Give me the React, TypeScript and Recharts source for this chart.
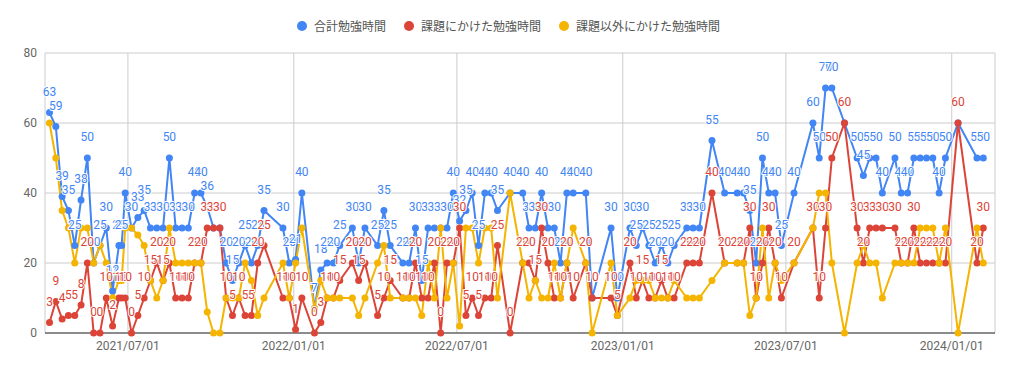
import React from "react";
import { LineChart, Line, XAxis, YAxis, CartesianGrid, LabelList } from "recharts";

const C = {
  total: "#4285f4",
  kadai: "#db4437",
  other: "#f4b400",
  grid: "#cccccc",
  axis: "#333333",
  tick: "#666666",
};

const dates = [
  "2021-04-05", "2021-04-12", "2021-04-19", "2021-04-26", "2021-05-03", "2021-05-10", "2021-05-17", "2021-05-24", "2021-05-31", "2021-06-07",
  "2021-06-14", "2021-06-21", "2021-06-24", "2021-06-28", "2021-07-05", "2021-07-12", "2021-07-19", "2021-07-26", "2021-08-02", "2021-08-09",
  "2021-08-16", "2021-08-23", "2021-08-30", "2021-09-06", "2021-09-13", "2021-09-20", "2021-09-27", "2021-10-04", "2021-10-11", "2021-10-18",
  "2021-10-25", "2021-11-01", "2021-11-08", "2021-11-15", "2021-11-22", "2021-11-29", "2021-12-20", "2021-12-27", "2022-01-03", "2022-01-10",
  "2022-01-24", "2022-01-31", "2022-02-07", "2022-02-14", "2022-02-21", "2022-03-07", "2022-03-14", "2022-03-21", "2022-04-04", "2022-04-11",
  "2022-04-18", "2022-05-02", "2022-05-09", "2022-05-16", "2022-05-23", "2022-05-30", "2022-06-06", "2022-06-13", "2022-06-20", "2022-06-27",
  "2022-07-04", "2022-07-11", "2022-07-18", "2022-07-25", "2022-08-01", "2022-08-08", "2022-08-15", "2022-08-29", "2022-09-12", "2022-09-19",
  "2022-09-26", "2022-10-03", "2022-10-10", "2022-10-17", "2022-10-24", "2022-10-31", "2022-11-07", "2022-11-21", "2022-11-28", "2022-12-19",
  "2022-12-26", "2023-01-09", "2023-01-16", "2023-01-23", "2023-01-30", "2023-02-06", "2023-02-13", "2023-02-20", "2023-02-27", "2023-03-13",
  "2023-03-20", "2023-03-27", "2023-04-10", "2023-04-24", "2023-05-08", "2023-05-15", "2023-05-22", "2023-05-29", "2023-06-05", "2023-06-12",
  "2023-06-19", "2023-06-26", "2023-07-10", "2023-07-31", "2023-08-07", "2023-08-14", "2023-08-21", "2023-09-04", "2023-09-18", "2023-09-25",
  "2023-10-02", "2023-10-09", "2023-10-16", "2023-10-30", "2023-11-06", "2023-11-13", "2023-11-20", "2023-11-27", "2023-12-04", "2023-12-11",
  "2023-12-18", "2023-12-25", "2024-01-08", "2024-01-29", "2024-02-05",
];

// 合計勉強時間
const total = [
  63, 59, 39, 35, 25, 38, 50, 20, 25, 30,
  12, 25, 25, 40, 30, 33, 35, 30, 30, 30,
  50, 30, 30, 30, 40, 40, 36, 30, 30, 20,
  15, 20, 25, 20, 25, 35, 30, 20, 21, 40,
  7, 18, 20, 20, 25, 30, 20, 30, 25, 35,
  25, 20, 20, 30, 15, 30, 30, 30, 30, 40,
  32, 35, 40, 25, 40, 40, 35, 40, 40, 30,
  30, 40, 30, 30, 20, 40, 40, 40, 10, 30,
  10, 30, 25, 30, 25, 20, 25, 20, 25, 30,
  30, 30, 55, 40, 40, 40, 35, 20, 50, 40,
  40, 25, 40, 60, 50, 70, 70, 60, 50, 45,
  50, 50, 40, 50, 40, 40, 50, 50, 50, 50,
  40, 50, 60, 50, 50,
];

// 課題にかけた勉強時間
const kadai = [
  3, 9, 4, 5, 5, 8, 20, 0, 0, 10,
  2, 10, 10, 10, 0, 5, 10, 15, 20, 15,
  20, 10, 10, 10, 20, 20, 30, 30, 30, 10,
  5, 10, 5, 5, 20, 25, 10, 10, 1, 10,
  0, 3, 10, 10, 15, 20, 15, 20, 5, 10,
  15, 10, 10, 20, 10, 10, 20, 0, 20, 20,
  30, 5, 10, 5, 10, 10, 25, 0, 20, 20,
  15, 30, 20, 10, 10, 20, 10, 20, 10, 10,
  5, 20, 10, 15, 10, 10, 15, 10, 10, 20,
  20, 20, 40, 20, 20, 20, 30, 10, 20, 30,
  20, 10, 20, 30, 10, 30, 50, 60, 30, 20,
  30, 30, 30, 30, 20, 20, 30, 20, 20, 20,
  20, 20, 60, 20, 30,
];

// 課題以外にかけた勉強時間
const other = [
  60, 50, 35, 30, 20, 30, 30, 20, 25, 20,
  10, 15, 15, 30, 30, 28, 25, 15, 10, 15,
  30, 20, 20, 20, 20, 20, 6, 0, 0, 10,
  10, 10, 20, 15, 5, 10, 20, 10, 20, 30,
  7, 15, 10, 10, 10, 10, 5, 10, 20, 25,
  10, 10, 10, 10, 5, 20, 10, 30, 10, 20,
  2, 30, 30, 20, 30, 30, 10, 40, 20, 10,
  15, 10, 10, 20, 10, 20, 30, 20, 0, 20,
  5, 10, 15, 15, 15, 10, 10, 10, 15, 10,
  10, 10, 15, 20, 20, 20, 5, 10, 30, 10,
  20, 15, 20, 30, 40, 40, 20, 0, 20, 25,
  20, 20, 10, 20, 20, 20, 20, 30, 30, 30,
  20, 30, 0, 30, 20,
];

const tickDates = ["2021-07-01", "2022-01-01", "2022-07-01", "2023-01-01", "2023-07-01", "2024-01-01"];
const yTicks = [0, 20, 40, 60, 80];

const SERIES = [
  { key: "total", name: "合計勉強時間", color: C.total },
  { key: "kadai", name: "課題にかけた勉強時間", color: C.kadai },
  { key: "other", name: "課題以外にかけた勉強時間", color: C.other },
];

const data = dates.map((d, i) => ({
  t: Date.parse(d),
  total: total[i],
  kadai: kadai[i],
  other: other[i],
}));

const xTicks = tickDates.map((d) => Date.parse(d));
const xDomain = [Date.parse("2021-03-31"), Date.parse("2024-02-18")];

const pad = (n: number) => String(n).padStart(2, "0");
const fmtDate = (v: number) => {
  const d = new Date(v);
  return `${d.getUTCFullYear()}/${pad(d.getUTCMonth() + 1)}/${pad(d.getUTCDate())}`;
};

const FONT = "Roboto, 'Noto Sans CJK JP', sans-serif";

const pointLabel = (color: string) => (props: any) => {
  const x = props.x ?? props.viewBox?.x;
  const y = props.y ?? props.viewBox?.y;
  if (x == null || y == null) return null;
  return (
    <text
      x={x}
      y={y - 17}
      textAnchor="middle"
      fontSize={12}
      fontFamily={FONT}
      fill={color}
      stroke="#fff"
      strokeWidth={2}
      paintOrder="stroke"
    >
      {props.value}
    </text>
  );
};

function LegendRow() {
  return (
    <div
      style={{
        position: "absolute",
        top: 17,
        left: 4,
        width: 1009,
        display: "flex",
        justifyContent: "center",
        alignItems: "center",
        fontFamily: "'Noto Sans CJK JP', sans-serif",
        fontSize: 12,
        color: "#555",
      }}
    >
      {SERIES.map((s, i) => (
        <div key={s.key} style={{ display: "flex", alignItems: "center", marginLeft: i ? 18 : 0 }}>
          <span style={{ width: 10, height: 10, borderRadius: 5, background: s.color, marginRight: 7 }} />
          <span>{s.name}</span>
        </div>
      ))}
    </div>
  );
}

export default function App() {
  return (
    <div style={{ position: "relative", width: 1009, height: 373, background: "#fff" }}>
      <style>{`body{margin:0}`}</style>
      <LegendRow />
      <LineChart width={1009} height={373} data={data} margin={{ top: 53, right: 14, bottom: 10, left: 0 }}>
        <CartesianGrid stroke={C.grid} strokeWidth={1} />
        <XAxis
          dataKey="t"
          type="number"
          domain={xDomain}
          ticks={xTicks}
          tickFormatter={fmtDate}
          tick={{ fontSize: 12, fill: C.tick, fontFamily: FONT }}
          tickLine={false}
          axisLine={{ stroke: C.axis }}
          allowDataOverflow
        />
        <YAxis
          width={45}
          domain={[0, 80]}
          ticks={yTicks}
          tick={{ fontSize: 12, fill: C.tick, fontFamily: FONT }}
          tickLine={false}
          axisLine={false}
        />
        {SERIES.map((s) => (
          <Line
            key={s.key}
            dataKey={s.key}
            stroke={s.color}
            strokeWidth={2}
            dot={{ r: 3.5, fill: s.color, stroke: s.color, strokeWidth: 0 }}
            activeDot={false}
            isAnimationActive={false}
          />
        ))}
        {/* labels drawn last so they sit above all lines */}
        <Line dataKey="total" stroke="none" dot={false} activeDot={false} isAnimationActive={false} legendType="none">
          <LabelList dataKey="total" content={pointLabel(C.total)} />
        </Line>
        <Line dataKey="kadai" stroke="none" dot={false} activeDot={false} isAnimationActive={false} legendType="none">
          <LabelList dataKey="kadai" content={pointLabel(C.kadai)} />
        </Line>
      </LineChart>
    </div>
  );
}
